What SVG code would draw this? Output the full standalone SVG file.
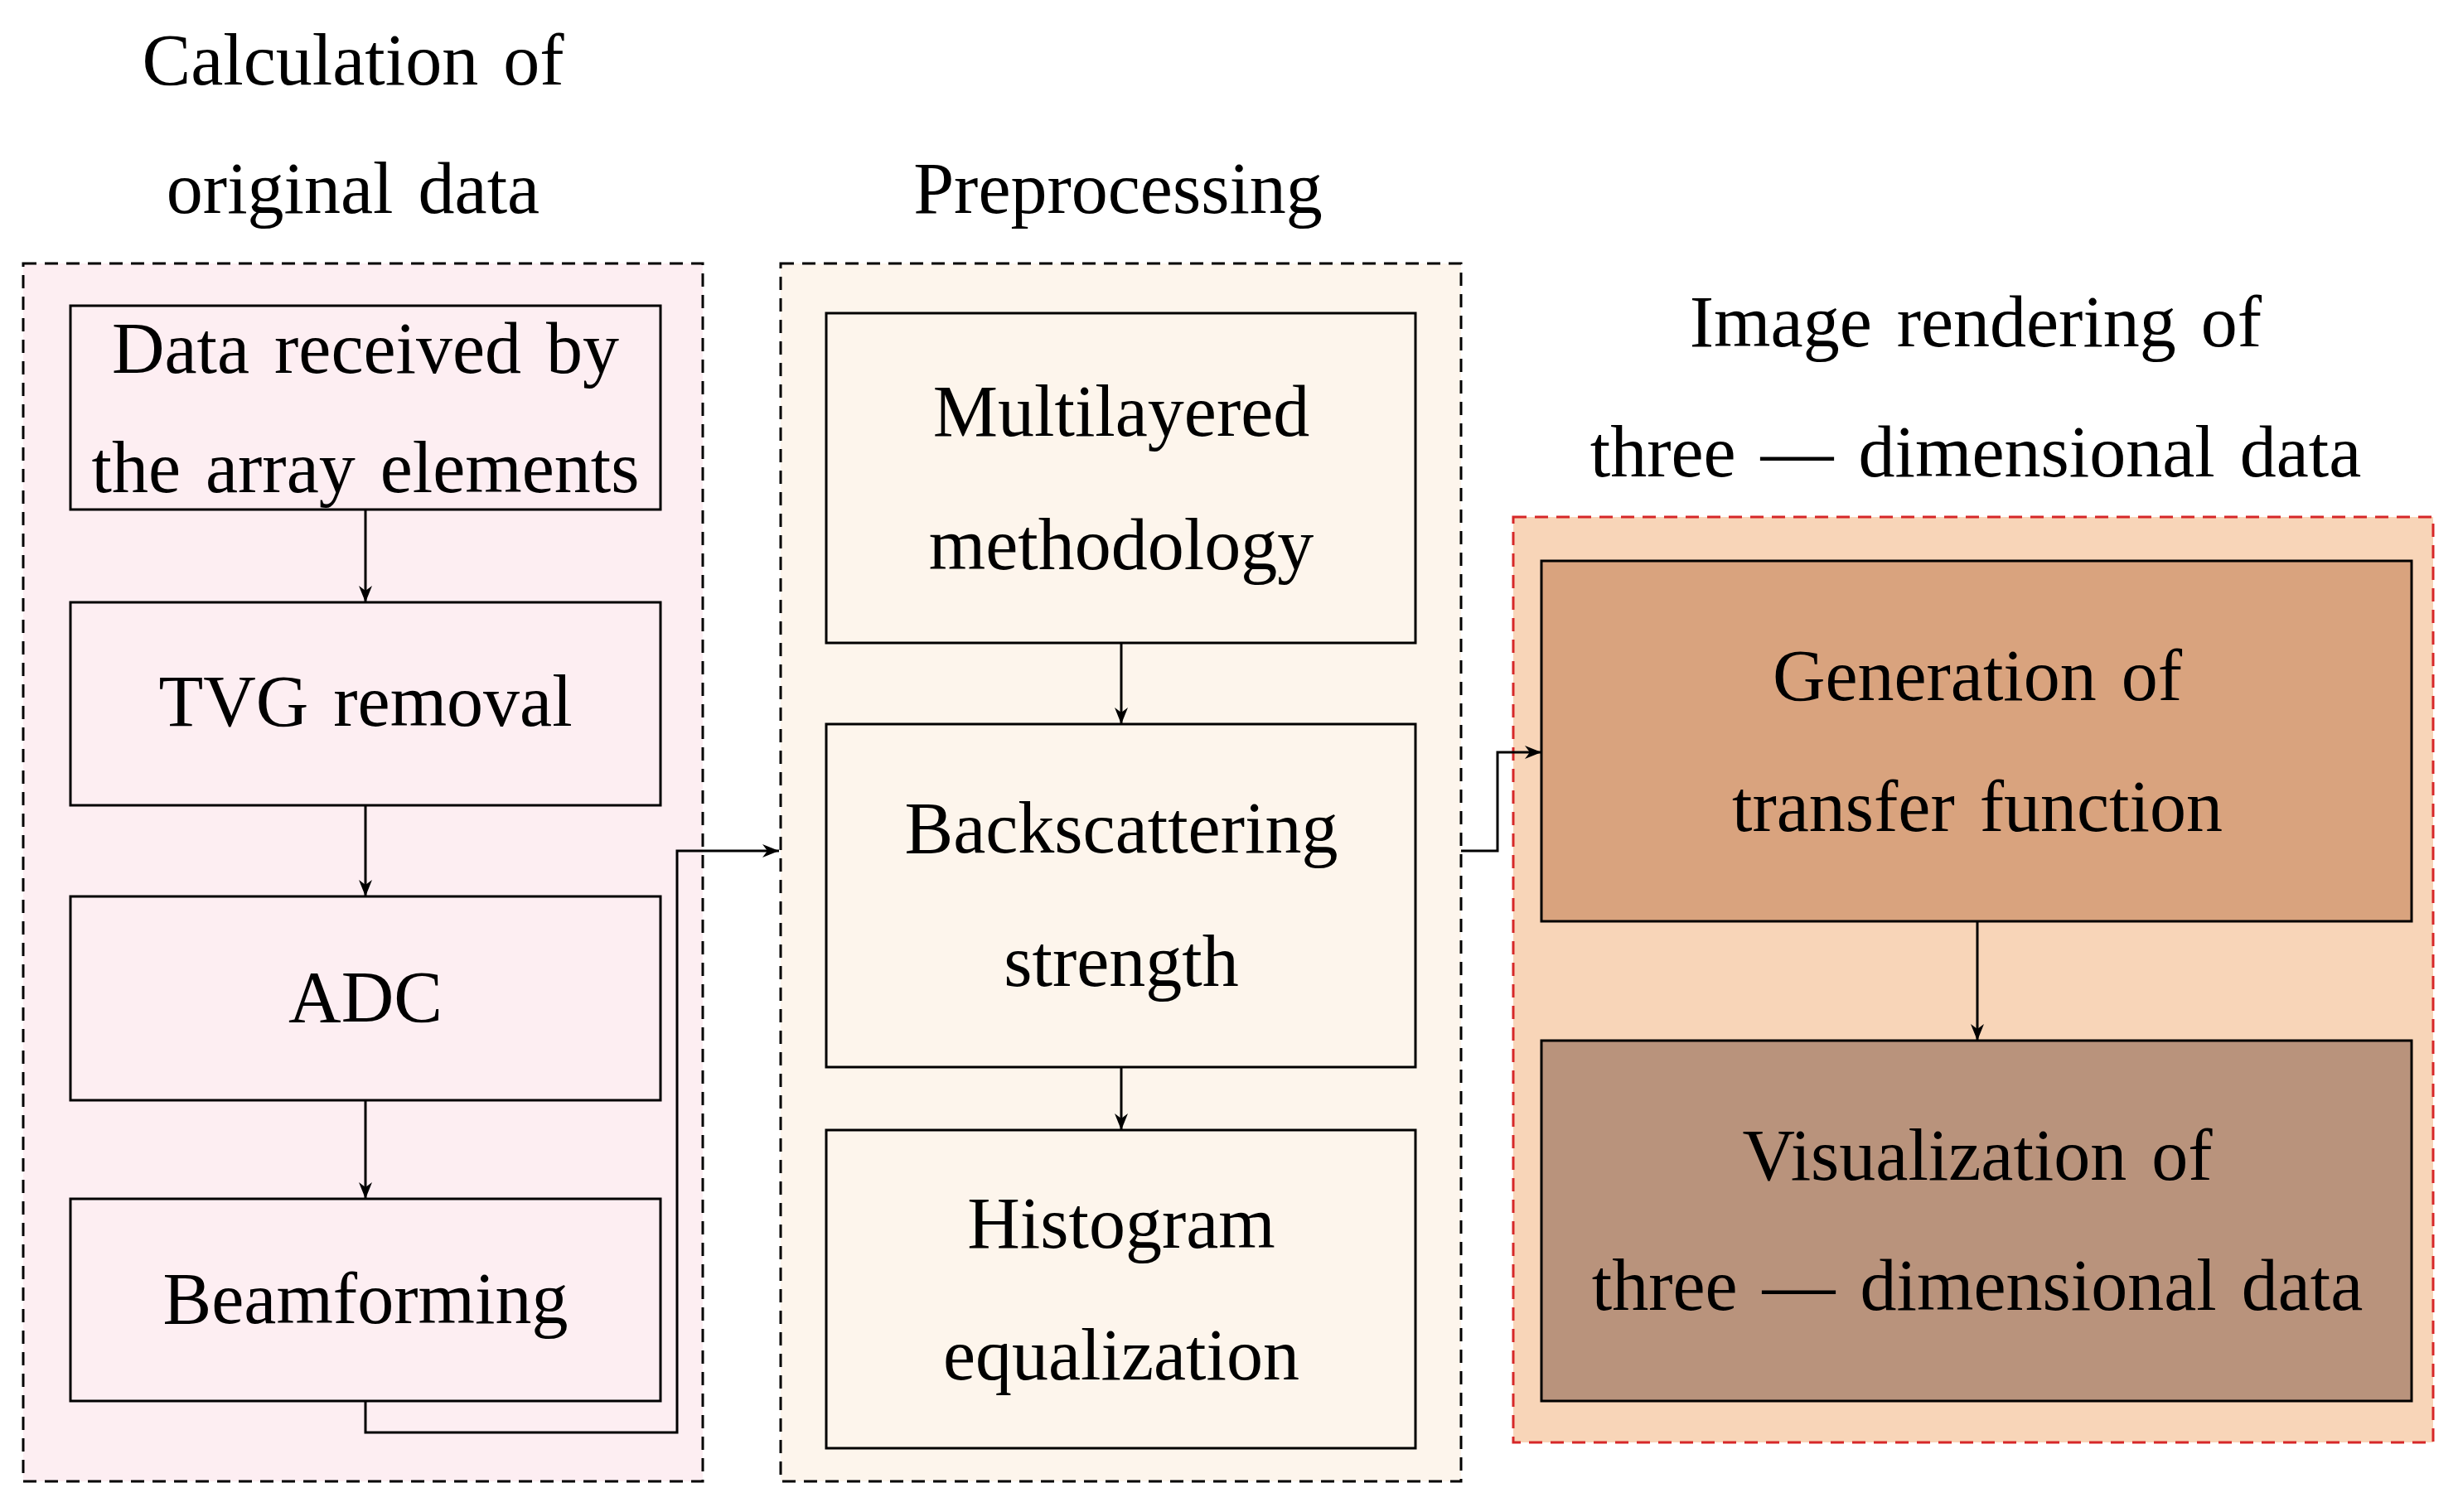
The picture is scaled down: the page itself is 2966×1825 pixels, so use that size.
<svg xmlns="http://www.w3.org/2000/svg" width="2966" height="1825" viewBox="0 0 2966 1825">
<style>
text{font-family:"Liberation Serif","Times New Roman",serif;font-size:88px;fill:#000;text-anchor:middle;dominant-baseline:central;word-spacing:8px}
.n{stroke:#000;stroke-width:3}
.c{fill:none;stroke:#000;stroke-width:3;marker-end:url(#a)}
</style>
<defs><marker id="a" viewBox="0 0 10 10" refX="10" refY="5" markerWidth="10" markerHeight="10" markerUnits="userSpaceOnUse" orient="auto"><path d="M0,0 L10,5 L0,10 z"/></marker>
<marker id="a2" viewBox="0 0 10 10" refX="10" refY="5" markerWidth="30" markerHeight="20" markerUnits="userSpaceOnUse" orient="auto"><path d="M0,1 L10,5 L0,9 L3,5 z"/></marker></defs>
<rect width="2966" height="1825" fill="#fff"/>
<g id="panel1"><rect x="28" y="318" width="820" height="1470" fill="#FDEEF2" stroke="#000" stroke-width="3" stroke-dasharray="16,10"/>
<text x="426" y="72">Calculation of</text><text x="426" y="227">original data</text></g>
<g id="panel2"><rect x="942" y="318" width="821" height="1470" fill="#FDF5EC" stroke="#000" stroke-width="3" stroke-dasharray="16,10"/>
<text x="1349" y="227">Preprocessing</text></g>
<g id="panel3"><rect x="1826" y="624" width="1110" height="1117" fill="#F8D5B8" stroke="#D62728" stroke-width="3" stroke-dasharray="16,10"/>
<text x="2384" y="388">Image rendering of</text><text x="2384" y="545">three — dimensional data</text></g>
<g id="n1"><rect class="n" x="85" y="369" width="712" height="246" fill="#FDEEF2"/><text x="441" y="420">Data received by</text><text x="441" y="564">the array elements</text></g>
<g id="n2"><rect class="n" x="85" y="727" width="712" height="245" fill="#FDEEF2"/><text x="441" y="846">TVG removal</text></g>
<g id="n3"><rect class="n" x="85" y="1082" width="712" height="246" fill="#FDEEF2"/><text x="441" y="1203">ADC</text></g>
<g id="n4"><rect class="n" x="85" y="1447" width="712" height="244" fill="#FDEEF2"/><text x="441" y="1567">Beamforming</text></g>
<g id="n5"><rect class="n" x="997" y="378" width="711" height="398" fill="#FDF5EC"/><text x="1353" y="496">Multilayered</text><text x="1353" y="657">methodology</text></g>
<g id="n6"><rect class="n" x="997" y="874" width="711" height="414" fill="#FDF5EC"/><text x="1353" y="999">Backscattering</text><text x="1353" y="1160">strength</text></g>
<g id="n7"><rect class="n" x="997" y="1364" width="711" height="384" fill="#FDF5EC"/><text x="1353" y="1476">Histogram</text><text x="1353" y="1635">equalization</text></g>
<g id="n8"><rect class="n" x="1860" y="677" width="1050" height="435" fill="#D9A37E"/><text x="2386" y="815">Generation of</text><text x="2386" y="973">transfer function</text></g>
<g id="n9"><rect class="n" x="1860" y="1256" width="1050" height="435" fill="#B9937C"/><text x="2386" y="1394">Visualization of</text><text x="2386" y="1551">three — dimensional data</text></g>
<g id="connectors" fill="none" stroke="#000" stroke-width="3">
<path d="M441,615 V727" marker-end="url(#a2)"/>
<path d="M441,972 V1082" marker-end="url(#a2)"/>
<path d="M441,1328 V1447" marker-end="url(#a2)"/>
<path d="M441,1691 V1729 H817 V1027 H940" marker-end="url(#a2)"/>
<path d="M1353,776 V874" marker-end="url(#a2)"/>
<path d="M1353,1288 V1364" marker-end="url(#a2)"/>
<path d="M1763,1027 H1807 V908 H1860" marker-end="url(#a2)"/>
<path d="M2386,1112 V1256" marker-end="url(#a2)"/>
</g>
</svg>
